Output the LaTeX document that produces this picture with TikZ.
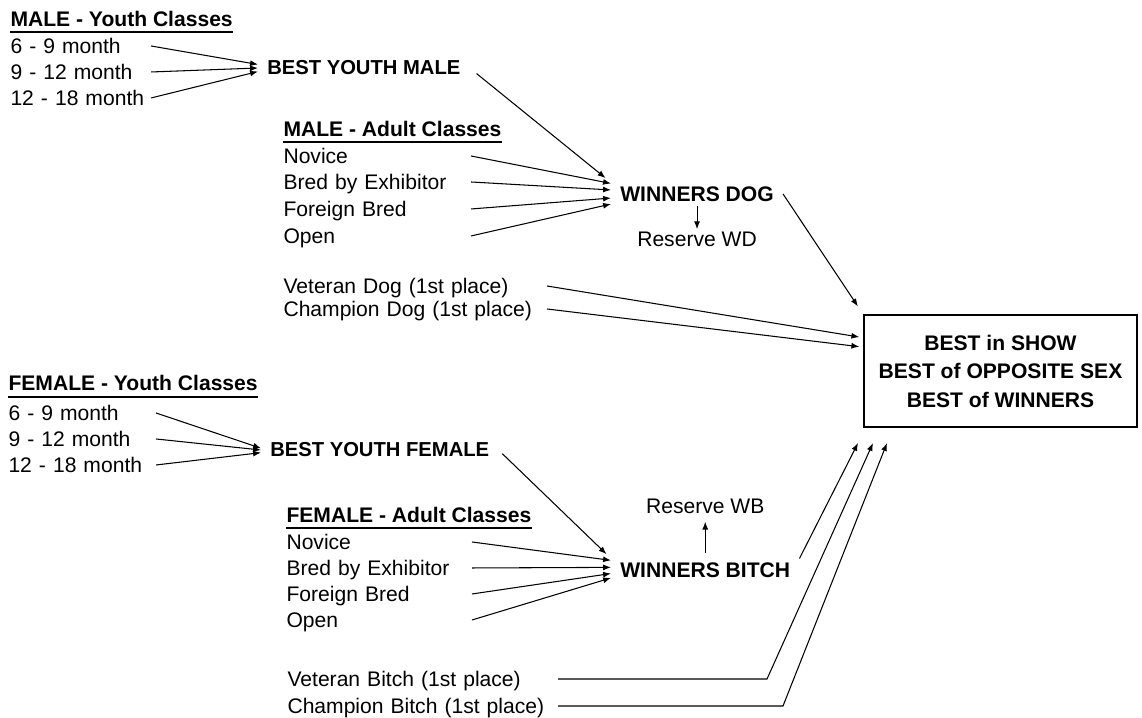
\documentclass[tikz,border=0pt]{standalone}
\usepackage{fontspec}
\setmainfont{Liberation Sans}
\usetikzlibrary{positioning, arrows.meta}
\tikzset{cls/.style = {anchor=base west, inner sep=0pt, text height=10pt, text depth=2pt, font=\fontsize{12}{14}\selectfont}}
\tikzset{head/.style = {anchor=base west, inner sep=0pt, font=\bfseries\fontsize{12}{14}\selectfont}}
\tikzset{award/.style = {anchor=west, inner xsep=5pt, inner ysep=2pt, font=\bfseries\fontsize{12}{14}\selectfont}}
\tikzset{youth/.style = {award, font=\bfseries\fontsize{11.5}{14}\selectfont}}
\tikzset{reserve/.style = {inner sep=1pt, font=\fontsize{12}{14}\selectfont}}
\tikzset{final/.style = {draw, line width=1.4pt, minimum width=5.46cm, minimum height=2.24cm, align=center, font=\bfseries\fontsize{12}{16.2}\selectfont}}
\tikzset{rule/.style = {line width=1.2pt}}

\begin{document}
\begin{tikzpicture}[x=0.02cm, y=-0.02cm, >={Latex[length=4.5pt, width=3.4pt]}, node distance=13pt, line width=0.6pt]
  \useasboundingbox (0,0) rectangle (1142,717);

  \node [head] (hmy) at (10,26) {MALE - Youth Classes};
  \node [cls, text width=2.8cm] (my1) at (10,53) {6 - 9 month};
  \node [cls, text width=2.8cm] (my2) at (10,79) {9 - 12 month};
  \node [cls, text width=2.8cm] (my3) at (10,105) {12 - 18 month};
  \node [youth] (bym) at (258,68) {BEST YOUTH MALE};

  \node [head] (hma) at (283,136) {MALE - Adult Classes};
  \node [cls, text width=3.74cm] (ma1) at (283,163) {Novice};
  \node [cls, text width=3.74cm] (ma2) at (283,189) {Bred by Exhibitor};
  \node [cls, text width=3.74cm] (ma3) at (283,216) {Foreign Bred};
  \node [cls, text width=3.74cm] (ma4) at (283,243) {Open};
  \node [award] (wd) at (611,194) {WINNERS DOG};
  \node [reserve, below=13.5pt of wd] (rwd) {Reserve WD};

  \node [cls, text width=5.26cm] (vd) at (283,293) {Veteran Dog (1st place)};
  \node [cls, text width=5.26cm] (cd) at (283,316) {Champion Dog (1st place)};

  \node [final] (bis) at (1000.5,371) {BEST in SHOW\\BEST of OPPOSITE SEX\\BEST of WINNERS};

  \node [head] (hfy) at (8,390) {FEMALE - Youth Classes};
  \node [cls, text width=2.94cm] (fy1) at (8,420) {6 - 9 month};
  \node [cls, text width=2.94cm] (fy2) at (8,446) {9 - 12 month};
  \node [cls, text width=2.94cm] (fy3) at (8,472) {12 - 18 month};
  \node [youth] (byf) at (261,450) {BEST YOUTH FEMALE};

  \node [head] (hfa) at (286,522) {FEMALE - Adult Classes};
  \node [cls, text width=3.7cm] (fa1) at (286,549) {Novice};
  \node [cls, text width=3.7cm] (fa2) at (286,575) {Bred by Exhibitor};
  \node [cls, text width=3.7cm] (fa3) at (286,601) {Foreign Bred};
  \node [cls, text width=3.7cm] (fa4) at (286,627) {Open};
  \node [award] (wb) at (611,570) {WINNERS BITCH};
  \node [reserve, above=24pt of wb] (rwb) {Reserve WB};

  \node [cls, text width=5.4cm] (vb) at (287,686) {Veteran Bitch (1st place)};
  \node [cls, text width=5.4cm] (cb) at (287,713) {Champion Bitch (1st place)};

  \coordinate (vbk) at (767,679);
  \coordinate (cbk) at (783,706);
  \coordinate (in1) at (858,443);
  \coordinate (in2) at (873,443);
  \coordinate (in3) at (887,443);

  \draw [rule] ([yshift=-3.5pt]hmy.base west) -- ([yshift=-3.5pt]hmy.base east);
  \draw [rule] ([yshift=-3.5pt]hma.base west) -- ([yshift=-3.5pt]hma.base east);
  \draw [rule] ([yshift=-4pt]hfy.base west) -- ([yshift=-4pt]hfy.base east);
  \draw [rule] ([yshift=-3.5pt]hfa.base west) -- ([yshift=-3.5pt]hfa.base east);

  \path[->] (my1.east) edge ([yshift=2pt]bym.west);
  \path[->] (my2.east) edge (bym.west);
  \path[->] (my3.east) edge ([yshift=-2pt]bym.west);
  \path[->] (bym.east) edge [shorten <=5pt, shorten >=4pt] (wd.north west);

  \path[->] (ma1.east) edge ([yshift=6pt]wd.west);
  \path[->] (ma2.east) edge ([yshift=2.3pt]wd.west);
  \path[->] (ma3.east) edge ([yshift=-2.3pt]wd.west);
  \path[->] (ma4.east) edge ([yshift=-5.7pt]wd.west);
  \path[->] (wd) edge (rwd);
  \path[->] (wd.east) edge [shorten >=5pt] (bis.north west);

  \path[->] (vd.east) edge [shorten >=2pt] ([yshift=19pt]bis.west);
  \path[->] (cd.east) edge [shorten >=2pt] ([yshift=13.6pt]bis.west);

  \path[->] (fy1.east) edge ([yshift=1pt]byf.west);
  \path[->] (fy2.east) edge (byf.west);
  \path[->] (fy3.east) edge ([yshift=-1.5pt]byf.west);
  \path[->] (byf.east) edge [shorten <=3pt, shorten >=3.5pt] (wb.north west);

  \path[->] (fa1.east) edge ([yshift=5.5pt]wb.west);
  \path[->] (fa2.east) edge ([yshift=1.5pt]wb.west);
  \path[->] (fa3.east) edge ([yshift=-2pt]wb.west);
  \path[->] (fa4.east) edge ([yshift=-4.5pt]wb.west);
  \path[->] (wb) edge [shorten <=3pt, shorten >=3pt] (rwb);
  \path[->] (wb.north east) edge (in1);

  \draw[->] (vb.east) -- (vbk) -- (in2);
  \draw[->] (cb.east) -- (cbk) -- (in3);
\end{tikzpicture}
\end{document}
